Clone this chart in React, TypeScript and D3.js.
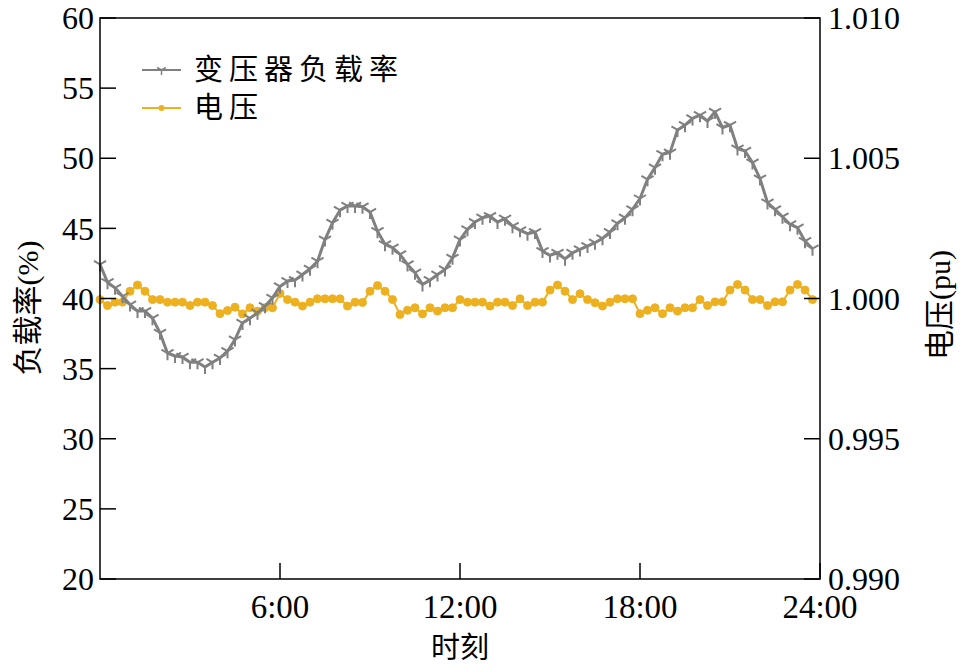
import React from "react";
import * as d3 from "d3";

const loadRate: number[] = [
  42.43, 41.16, 40.76, 40.16, 39.57, 39.1, 39.1, 38.6, 37.55, 36.1, 35.9, 35.83,
  35.45, 35.45, 35.12, 35.45, 35.76, 36.24, 37.07, 38.26, 38.6, 38.98, 39.45, 40.05,
  40.86, 41.24, 41.31, 41.71, 42.12, 42.66, 44.2, 45.4, 46.3, 46.6, 46.6, 46.55,
  46.16, 44.8, 43.86, 43.62, 43.14, 42.43, 41.84, 41.0, 41.31, 41.71, 42.07, 42.9,
  44.2, 44.93, 45.45, 45.76, 45.88, 45.45, 45.69, 45.16, 44.86, 44.62, 44.74, 43.38,
  43.07, 43.26, 42.83, 43.26, 43.5, 43.74, 43.98, 44.29, 44.74, 45.36, 45.76, 46.36,
  47.13, 48.5, 49.33, 50.29, 50.4, 52.02, 52.36, 52.84, 53.07, 52.66, 53.31, 52.19,
  52.36, 50.69, 50.52, 49.69, 48.55, 46.84, 46.36, 45.83, 45.29, 45.05, 44.09, 43.55,
];

const voltage: number[] = [
  0.99996, 0.99975, 0.99987, 0.99987, 1.00026, 1.00048, 1.00026, 0.99996, 0.99996, 0.99987, 0.99987, 0.99987,
  0.99975, 0.99987, 0.99987, 0.99975, 0.99946, 0.99957, 0.99969, 0.99945, 0.99967, 0.99955, 0.99967, 0.99967,
  1.00018, 0.99996, 0.99987, 0.99973, 0.99987, 0.99999, 0.99999, 0.99999, 0.99999, 0.99973, 0.99987, 0.99986,
  1.00026, 1.00046, 1.00026, 0.99996, 0.99943, 0.99958, 0.99967, 0.99945, 0.99967, 0.99955, 0.99967, 0.99967,
  0.99996, 0.99987, 0.99987, 0.99987, 0.99973, 0.99987, 0.99987, 0.99975, 0.99999, 0.99975, 0.99987, 0.99987,
  1.0003, 1.00048, 1.00026, 0.99996, 1.00017, 0.99996, 0.99985, 0.99973, 0.99987, 0.99999, 0.99999, 0.99999,
  0.99946, 0.99958, 0.99967, 0.99946, 0.99967, 0.99955, 0.99967, 0.99967, 0.99996, 0.99975, 0.99988, 0.99988,
  1.0003, 1.0005, 1.0003, 0.99996, 0.99996, 0.99975, 0.99988, 0.99988, 1.0003, 1.0005, 1.0003, 0.99996,
];

const hours: number[] = loadRate.map((_, i) => i * 0.25);
const leftTicks: number[] = [20, 25, 30, 35, 40, 45, 50, 55, 60];
const rightTicks: number[] = [0.99, 0.995, 1.0, 1.005, 1.01];
const xTicks: number[] = [6, 12, 18, 24];
const xTickLabels: string[] = ["6:00", "12:00", "18:00", "24:00"];
const seriesNames: string[] = ["变压器负载率", "电压"];

const GREY = "#808080";
const YELLOW = "#EDB120";
const FONT = "Liberation Serif, Tinos, Times New Roman, Times, DejaVu Serif, serif";
const CJK = "Noto Sans CJK SC, Noto Sans CJK JP, sans-serif";

const L = 100, R = 820, T = 18, B = 579;
const TICK = 16;

function triDown(cx: number, cy: number, r: number): string {
  return `M${cx},${cy}L${cx},${cy + r}M${cx},${cy}L${cx - r * 0.866},${cy - r * 0.5}M${cx},${cy}L${cx + r * 0.866},${cy - r * 0.5}`;
}

export default function App() {
  const x = d3.scaleLinear().domain([0, 24]).range([L, R]);
  const yL = d3.scaleLinear().domain([20, 60]).range([B, T]);
  const yR = d3.scaleLinear().domain([0.99, 1.01]).range([B, T]);

  const loadLine = d3.line<number>().x((_, i) => x(hours[i])).y((d) => yL(d))(loadRate) || "";
  const voltLine = d3.line<number>().x((_, i) => x(hours[i])).y((d) => yR(d))(voltage) || "";

  return (
    <svg width={965} height={668} style={{ position: "absolute", left: 0, top: 0, background: "#fff" }}>
      <rect x={0} y={0} width={965} height={668} fill="#fff" />
      {/* voltage series */}
      <path d={voltLine} fill="none" stroke={YELLOW} strokeWidth={2} />
      {voltage.map((v, i) => (
        <circle key={"v" + i} cx={x(hours[i])} cy={yR(v)} r={4} fill={YELLOW} stroke={YELLOW} strokeWidth={1} />
      ))}
      {/* load series */}
      <path d={loadLine} fill="none" stroke={GREY} strokeWidth={3} strokeLinejoin="round" />
      {loadRate.map((v, i) => (
        <path key={"l" + i} d={triDown(x(hours[i]), yL(v), 7)} stroke={GREY} strokeWidth={2} fill="none" />
      ))}

      {/* axes box */}
      <rect x={L} y={T} width={R - L} height={B - T} fill="none" stroke="#000" strokeWidth={1.5} />
      {leftTicks.map((t) => (
        <g key={"lt" + t}>
          <line x1={L} x2={L + TICK} y1={yL(t)} y2={yL(t)} stroke="#000" strokeWidth={1.5} />
          <text x={L - 6} y={yL(t)} dy="0.35em" textAnchor="end" fontFamily={FONT} fontSize={32} fill="#000">
            {t}
          </text>
        </g>
      ))}
      {rightTicks.map((t) => (
        <g key={"rt" + t}>
          <line x1={R - TICK} x2={R} y1={yR(t)} y2={yR(t)} stroke="#000" strokeWidth={1.5} />
          <text x={R + 8} y={yR(t)} dy="0.35em" textAnchor="start" fontFamily={FONT} fontSize={32} fill="#000">
            {d3.format(".3f")(t)}
          </text>
        </g>
      ))}
      {xTicks.map((t, i) => (
        <g key={"xt" + t}>
          <line x1={x(t)} x2={x(t)} y1={B} y2={B - TICK} stroke="#000" strokeWidth={1.5} />
          <text x={x(t)} y={B + 39} textAnchor="middle" fontFamily={FONT} fontSize={33} fill="#000">
            {xTickLabels[i]}
          </text>
        </g>
      ))}

      {/* axis titles */}
      <text x={460} y={658} textAnchor="middle" fontFamily={CJK} fontSize={29} fill="#000">时刻</text>
      <text transform={`translate(38,${308}) rotate(-90)`} textAnchor="middle" fontFamily={CJK} fontSize={30} fill="#000">
        负载率<tspan fontFamily={FONT}>(%)</tspan>
      </text>
      <text transform={`translate(950,${305}) rotate(-90)`} textAnchor="middle" fontFamily={CJK} fontSize={30} fill="#000">
        电压<tspan fontFamily={FONT}>(pu)</tspan>
      </text>

      {/* legend */}
      <line x1={142} x2={181} y1={70} y2={70} stroke={GREY} strokeWidth={2} />
      <path d={triDown(161.5, 70, 5)} stroke={GREY} strokeWidth={1.5} fill="none" />
      <text x={194} y={70} dy="0.36em" fontFamily={CJK} fontSize={29} letterSpacing={6} fill="#000">{seriesNames[0]}</text>
      <line x1={142} x2={181} y1={108} y2={108} stroke={YELLOW} strokeWidth={2} />
      <circle cx={161.5} cy={108} r={3} fill={YELLOW} />
      <text x={194} y={108} dy="0.36em" fontFamily={CJK} fontSize={29} letterSpacing={6} fill="#000">{seriesNames[1]}</text>
    </svg>
  );
}
